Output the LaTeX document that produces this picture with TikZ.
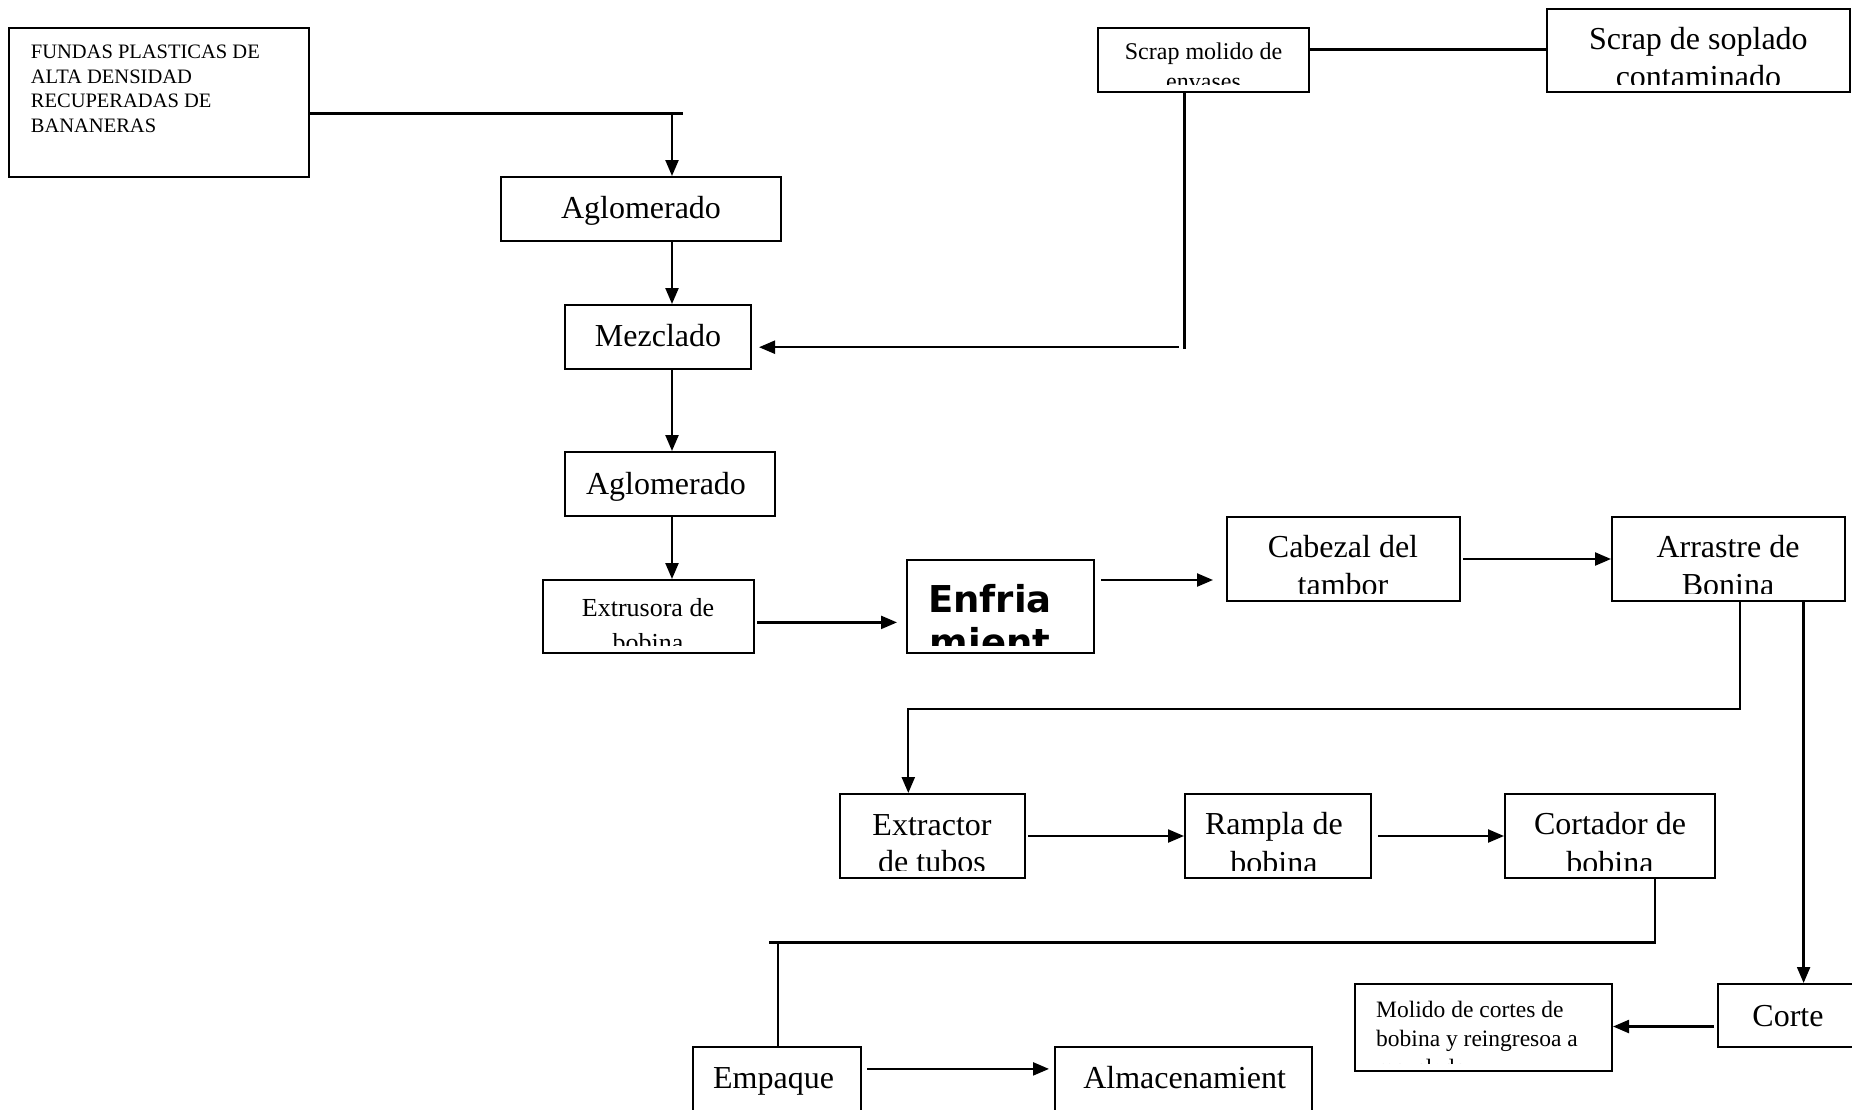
\documentclass[tikz,border=0pt]{standalone}
\usepackage{fontspec}
\setmainfont{Liberation Serif}
\newfontfamily\boldsans{DejaVu Sans}
\usetikzlibrary{arrows.meta}

\tikzset{
  box/.style={draw, line width=2pt, inner sep=0pt, anchor=center},
  conn/.style={line width=2.3pt},
  arr/.style={conn, -{Triangle[length=16pt,width=13pt]}},
  lbl/.style={inner sep=0pt, anchor=base},
  lbll/.style={inner sep=0pt, anchor=base west},
}

% box by centre and size
\newcommand\mkbox[5]{\node[box, minimum width=#4pt, minimum height=#5pt] (#1) at (#2,#3) {};}
% text kept inside the box's inner area
\newcommand\boxtext[2]{\begin{scope}\clip ([yshift=9pt]#1.south west) rectangle (#1.north east); #2 \end{scope}}
% centred / left-aligned lines with given size and line spacing
\newcommand\clines[3]{\fontsize{#1}{#2}\selectfont\begin{tabular}[t]{@{}c@{}}#3\end{tabular}}
\newcommand\llines[3]{\fontsize{#1}{#2}\selectfont\begin{tabular}[t]{@{}l@{}}#3\end{tabular}}

\begin{document}
\begin{tikzpicture}[x=1pt, y=-1pt]
\fill[white] (0,0) rectangle (1852,1109);
\useasboundingbox (0,0) rectangle (1852,1109);

% ---- boxes ----
\mkbox{fundas}{159}{102.5}{300}{149}
\mkbox{agl1}{641}{209}{280}{64}
\mkbox{mezc}{658}{336.75}{186}{63.5}
\mkbox{agl2}{670}{484}{210}{64}
\mkbox{extr}{648.5}{616.5}{211}{73}
\mkbox{enf}{1000.5}{606.5}{187}{93}
\mkbox{scrapm}{1203.5}{60}{211}{64}
\mkbox{scraps}{1698.5}{50.5}{303}{83}
\mkbox{cab}{1343.5}{559}{233}{84}
\mkbox{arrastre}{1728.5}{559}{233}{84}
\mkbox{extc}{932.5}{836}{185}{84}
\mkbox{ramp}{1278}{836}{186}{84}
\mkbox{cort}{1610}{836}{210}{84}
\mkbox{corte}{1794}{1015.5}{152}{63}
\mkbox{mol}{1483.5}{1027.5}{257}{87}
\mkbox{emp}{777}{1088.5}{168}{83}
\mkbox{alm}{1183.5}{1088.5}{257}{83}

% ---- texts ----
\boxtext{fundas}{\node[lbll] (t-fundas) at (30.7,58.5) {\llines{20.5}{24.5}{FUNDAS PLASTICAS DE\\ALTA DENSIDAD\\RECUPERADAS DE\\BANANERAS}};}
\boxtext{agl1}{\node[lbl] (t-agl1) at (641,218.5) {\clines{32}{36}{Aglomerado}};}
\boxtext{mezc}{\node[lbl] (t-mezc) at (658,346) {\clines{32}{36}{Mezclado}};}
\boxtext{agl2}{\node[lbl] (t-agl2) at (666,494.5) {\clines{32}{36}{Aglomerado}};}
\boxtext{extr}{\node[lbl] (t-extr) at (648,616) {\clines{26}{35}{Extrusora de\\bobina}};}
\boxtext{enf}{\node[lbl] (t-enf) at (990,612) {\boldsans\bfseries\clines{37}{43}{Enfria\\mient\\o}};}
\boxtext{scrapm}{\node[lbl] (t-scrapm) at (1203.5,59.5) {\clines{24}{30}{Scrap molido de\\envases}};}
\boxtext{scraps}{\node[lbl] (t-scraps) at (1698.4,49) {\clines{32}{38}{Scrap de soplado\\contaminado}};}
\boxtext{cab}{\node[lbl] (t-cab) at (1343,557.5) {\clines{32}{38}{Cabezal del\\tambor}};}
\boxtext{arrastre}{\node[lbl] (t-arrastre) at (1728,557.5) {\clines{32}{38}{Arrastre de\\Bonina}};}
\boxtext{extc}{\node[lbl] (t-extc) at (932,835) {\clines{32}{37}{Extractor\\de tubos}};}
\boxtext{ramp}{\node[lbl] (t-ramp) at (1274,834) {\clines{32}{39}{Rampla de\\bobina}};}
\boxtext{cort}{\node[lbl] (t-cort) at (1610,834) {\clines{32}{39}{Cortador de\\bobina}};}
\boxtext{corte}{\node[lbl] (t-corte) at (1788,1026) {\clines{32}{36}{Corte}};}
\boxtext{mol}{\node[lbll] (t-mol) at (1376,1017) {\llines{23.5}{29.3}{Molido de cortes de\\bobina y reingresoa a\\mezclado}};}
\node[lbl] (t-emp) at (773.6,1088.5) {\clines{32}{36}{Empaque}};
\node[lbl] (t-alm) at (1184.6,1088.5) {\clines{32}{36}{Almacenamient}};

% ---- junction points ----
\coordinate (j1) at (672,113.4);
\coordinate (j1e) at (682.7,113.4);
\coordinate (k1) at (1184.6,348.5);
\coordinate (k2) at (1178.7,347.2);
\coordinate (k3) at (1400,49.6);
\coordinate (e1) at (800,622.4);
\coordinate (e2) at (1150,580);
\coordinate (a1) at (1739.8,708.7);
\coordinate (a2) at (908.3,708.7);
\coordinate (a3) at (1803.6,650);
\coordinate (b1) at (1654.7,942.5);
\coordinate (b2) at (768.9,942.5);
\coordinate (b3) at (778.3,942.5);
\coordinate (m1) at (1650,1026.5);
\coordinate (p1) at (950,1068.9);

% ---- connectors ----
\draw[conn] (fundas.east |- j1) -- (j1e);
\draw[arr] (j1) -- (j1 |- agl1.north);
\draw[arr] (agl1.south -| j1) -- (mezc.north -| j1);
\draw[arr] (mezc.south -| j1) -- (agl2.north -| j1);
\draw[arr] (agl2.south -| j1) -- (extr.north -| j1);
\draw[conn] (scrapm.east |- k3) -- (scraps.west |- k3);
\draw[conn] (scrapm.south -| k1) -- (k1);
\draw[arr, shorten >=7pt] (k2) -- (k2 -| mezc.east);
\draw[arr, shorten <=2pt, shorten >=9pt] (extr.east |- e1) -- (enf.west |- e1);
\draw[arr, shorten <=6pt, shorten >=13pt] (enf.east |- e2) -- (cab.west |- e2);
\draw[arr, shorten <=2pt] (cab) -- (arrastre);
\draw[arr] (arrastre.south -| a1) -- (a1) -- (a2) -- (a2 |- extc.north);
\draw[arr] (arrastre.south -| a3) -- (a3 |- corte.north);
\draw[arr, shorten <=2pt] (extc) -- (ramp);
\draw[arr, shorten <=6pt] (ramp) -- (cort);
\draw[conn] (cort.south -| b1) -- (b1) -- (b2);
\draw[conn] (b3) -- (b3 |- emp.north);
\draw[arr, shorten <=3pt] (corte.west |- m1) -- (mol.east |- m1);
\draw[arr, shorten <=5pt, shorten >=5pt] (emp.east |- p1) -- (alm.west |- p1);
\end{tikzpicture}
\end{document}
